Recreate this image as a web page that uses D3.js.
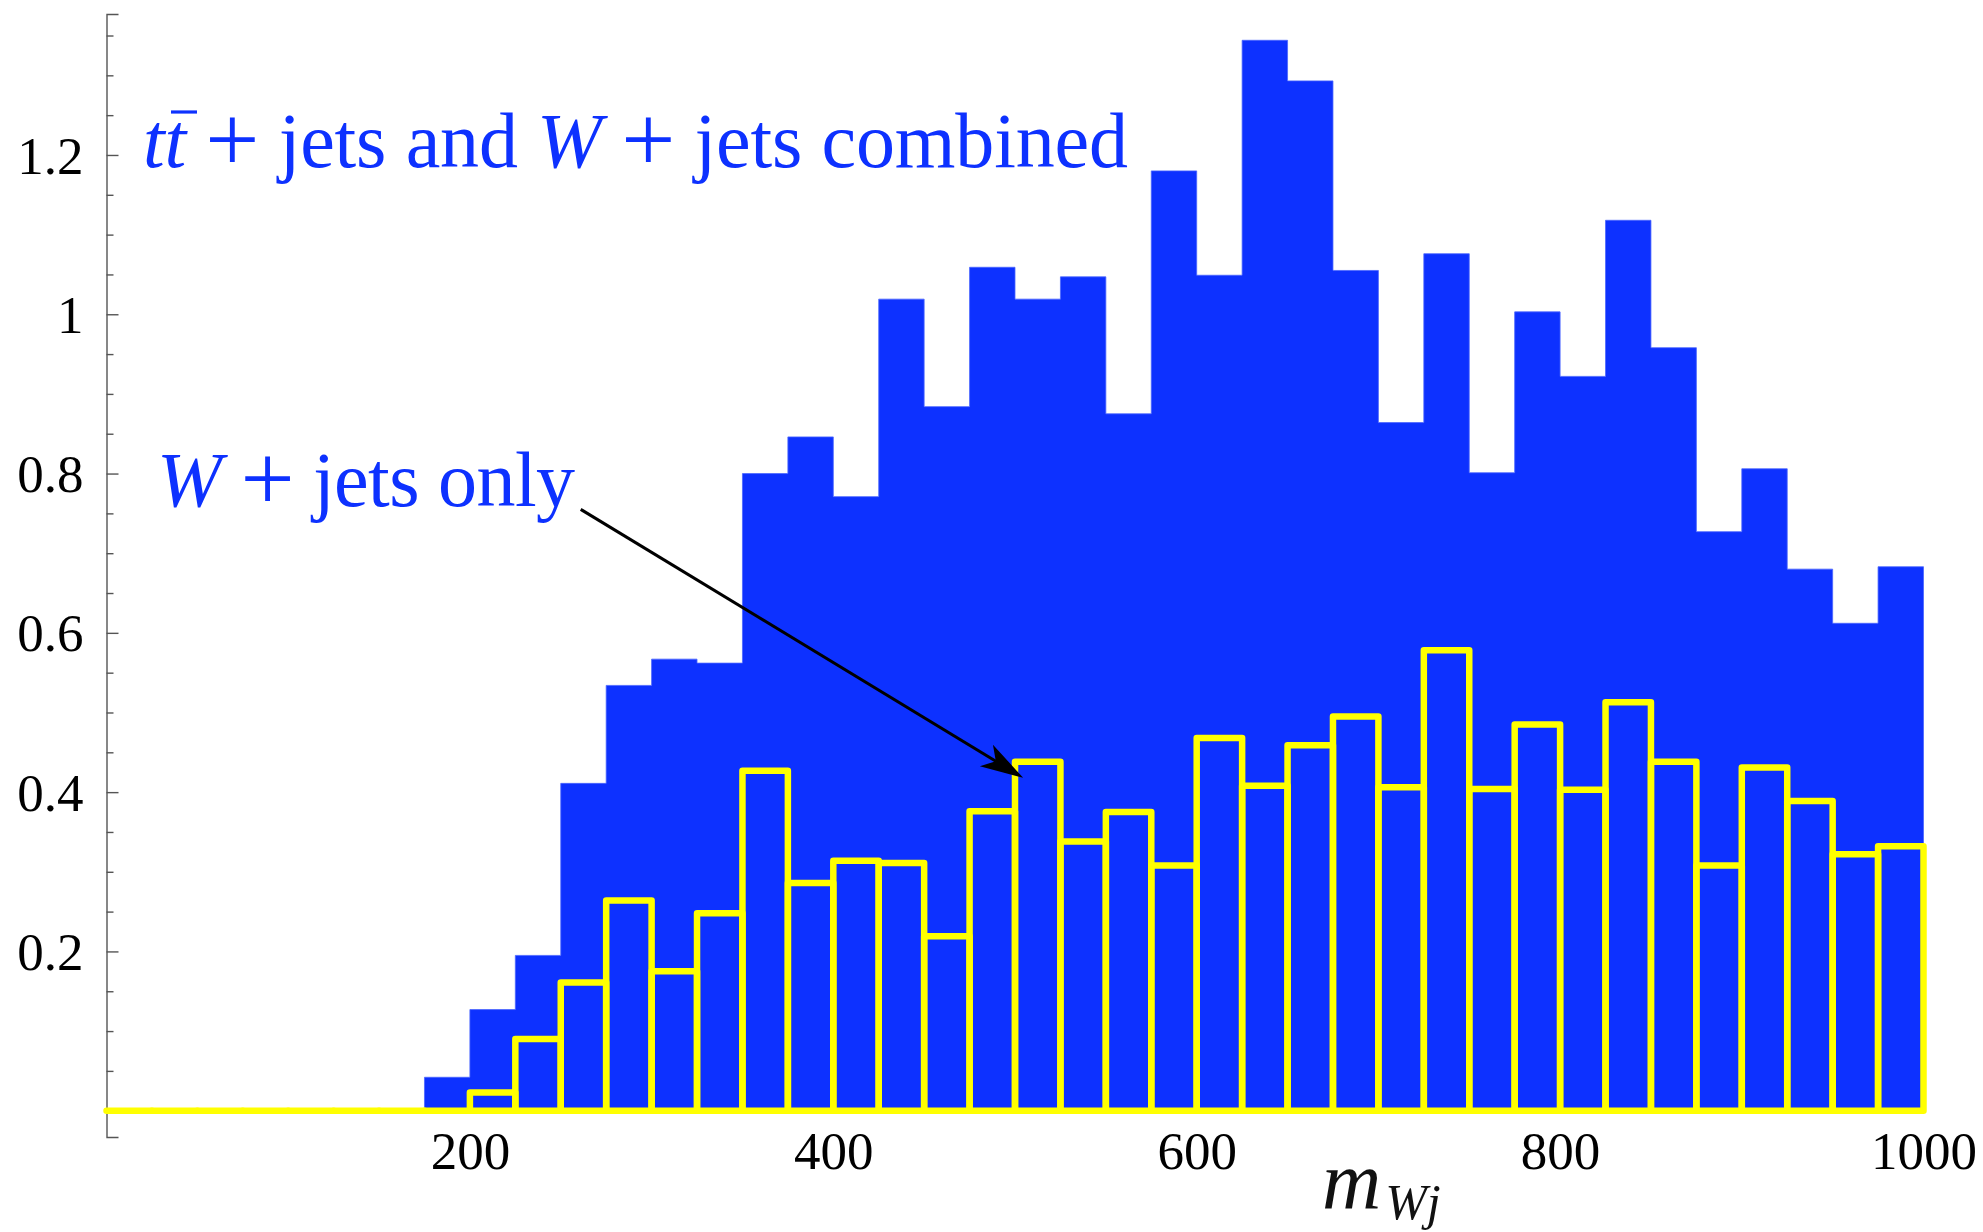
<!DOCTYPE html>
<html>
<head>
<meta charset="utf-8">
<script src="https://cdn.jsdelivr.net/npm/d3@7"></script>
<style>
  body { margin: 0; background: #fff; }
  svg { display: block; }
  text { font-family: "Liberation Serif", "Times New Roman", serif; }
</style>
</head>
<body>
<script>
// bins are 25 wide
const binWidth = 25;

// ttbar + jets and W + jets combined, bins from 175 to 1000
const combinedStart = 175;
const combined = [
  0.042, 0.127, 0.195, 0.411, 0.534, 0.567, 0.562, 0.800, 0.846, 0.771,
  1.019, 0.884, 1.059, 1.019, 1.047, 0.875, 1.180, 1.049, 1.344, 1.293,
  1.055, 0.864, 1.076, 0.801, 1.003, 0.922, 1.118, 0.958, 0.727, 0.806,
  0.680, 0.612, 0.683
];

// W + jets only, bins from 0 to 1000
const wjetsStart = 0;
const wjets = [
  0, 0, 0, 0, 0, 0, 0, 0,
  0.023, 0.090, 0.161, 0.264, 0.175, 0.248, 0.427, 0.286, 0.314, 0.311,
  0.219, 0.376, 0.438, 0.338, 0.375, 0.308, 0.468, 0.408, 0.459, 0.495,
  0.406, 0.578, 0.404, 0.485, 0.403, 0.513, 0.438, 0.308, 0.431, 0.389,
  0.322, 0.332
];

const yTicks = [0.2, 0.4, 0.6, 0.8, 1, 1.2];
const xTicks = [200, 400, 600, 800, 1000];

// arrow from the "W + jets only" label to the bin at 500
const arrowFrom = [261, 0.755];
const arrowTo = [504.5, 0.418];

const w = 1983, h = 1232;
const blue = '#0d31ff';
const yellow = '#ffff00';
const tickFont = 53;
const labelFont = 78;

const svg = d3.select('body')
  .append('svg')
  .attr('width', w)
  .attr('height', h)
  .attr('viewBox', [0, 0, w, h]);

const x = d3.scaleLinear()
  .domain([0, 1000])
  .range([106.5, 1923.5]);

const y = d3.scaleLinear()
  .domain([-0.033, 1.377])
  .range([1137, 14]);

// y axis, ticks point inward
const minorTicks = d3.range(1, 28)
  .map(i => i * 0.05)
  .filter(v => Math.round(v * 100) % 20 !== 0);

const yAxisMinor = svg.append('g')
  .attr('transform', `translate(${x(0)},0)`)
  .call(d3.axisLeft(y).tickValues(minorTicks).tickSize(-7).tickFormat(''));

const yAxis = svg.append('g')
  .attr('transform', `translate(${x(0)},0)`)
  .call(d3.axisLeft(y)
    .tickValues(yTicks)
    .tickSize(-12)
    .tickPadding(23)
    .tickFormat(d3.format('~g')));

[yAxis, yAxisMinor].forEach(g => {
  g.selectAll('line').attr('stroke', '#555').attr('stroke-width', 1.4);
  g.select('.domain').attr('stroke', '#555').attr('stroke-width', 1.4);
});
yAxisMinor.select('.domain').remove();

yAxis.selectAll('text')
  .attr('fill', '#000')
  .style('font-family', '"Liberation Serif", serif')
  .style('font-size', tickFont + 'px')
  .attr('dy', '0.34em');

// x tick labels
const xAxis = svg.append('g')
  .attr('transform', `translate(0,${y(0)})`)
  .call(d3.axisBottom(x).tickValues(xTicks).tickSize(0).tickPadding(21).tickFormat(d3.format('d')));

xAxis.select('.domain').attr('stroke', '#555').attr('stroke-width', 1.4);
xAxis.selectAll('text')
  .attr('fill', '#000')
  .style('font-family', '"Liberation Serif", serif')
  .style('font-size', tickFont + 'px');

// combined histogram as one stepped area (no seams between bins)
const steps = combined.map((v, i) => [combinedStart + i * binWidth, v]);
steps.push([combinedStart + combined.length * binWidth, combined[combined.length - 1]]);

const stepArea = d3.area()
  .x(d => x(d[0]))
  .y0(y(0))
  .y1(d => y(d[1]))
  .curve(d3.curveStepAfter);

svg.append('path')
  .datum(steps)
  .attr('d', stepArea)
  .attr('fill', blue)
  .attr('stroke', '#4a66ff')
  .attr('stroke-width', 0.8);

// W + jets outline histogram
svg.append('g')
  .selectAll('path')
  .data(wjets)
  .join('path')
    .attr('d', (d, i) => {
      const x0 = x(wjetsStart + i * binWidth);
      const x1 = x(wjetsStart + (i + 1) * binWidth);
      return `M${x0},${y(0)}V${y(d)}H${x1}V${y(0)}Z`;
    })
    .attr('fill', 'none')
    .attr('stroke', yellow)
    .attr('stroke-width', 6.5)
    .attr('stroke-linejoin', 'round')
    .attr('stroke-linecap', 'round');

// labels, math parts in italic, plus signs a bit larger like TeX
const plus = (t, before) => {
  t.append('tspan').text(before);
  t.append('tspan').style('font-size', '96px').attr('dy', 4).text('+');
  return t.append('tspan').attr('dy', -4);
};

const title = svg.append('text')
  .attr('x', 143)
  .attr('y', 167)
  .attr('fill', blue)
  .style('font-size', labelFont + 'px')
  .attr('textLength', 985)
  .attr('lengthAdjust', 'spacing');

title.append('tspan').style('font-style', 'italic').text('t');
title.append('tspan').style('font-style', 'italic').text('t');
plus(title, ' ').text(' jets and ');
title.append('tspan').style('font-style', 'italic').text('W');
plus(title, ' ').text(' jets combined');

// bar over the second t
const ext = title.node().getExtentOfChar(1);
svg.append('line')
  .attr('x1', ext.x + ext.width * 0.3)
  .attr('x2', ext.x + ext.width * 0.3 + 26)
  .attr('y1', 112)
  .attr('y2', 112)
  .attr('stroke', blue)
  .attr('stroke-width', 3.2);

const only = svg.append('text')
  .attr('x', 157)
  .attr('y', 506)
  .attr('fill', blue)
  .style('font-size', labelFont + 'px')
  .attr('textLength', 418)
  .attr('lengthAdjust', 'spacing');

only.append('tspan').style('font-style', 'italic').text('W');
plus(only, ' ').text(' jets only');

// axis label m_Wj
const axisLabel = svg.append('text')
  .attr('x', 1322)
  .attr('y', 1208)
  .attr('fill', '#111')
  .style('font-style', 'italic')
  .style('font-size', '82px');

axisLabel.append('tspan').text('m');
axisLabel.append('tspan')
  .attr('dy', 11)
  .attr('dx', 4)
  .style('font-size', '50px')
  .text('Wj');

// arrow
const ax0 = x(arrowFrom[0]), ay0 = y(arrowFrom[1]);
const ax1 = x(arrowTo[0]), ay1 = y(arrowTo[1]);
const angle = Math.atan2(ay1 - ay0, ax1 - ax0) * 180 / Math.PI;

svg.append('line')
  .attr('x1', ax0)
  .attr('y1', ay0)
  .attr('x2', ax1 - 30 * Math.cos(angle * Math.PI / 180))
  .attr('y2', ay1 - 30 * Math.sin(angle * Math.PI / 180))
  .attr('stroke', '#000')
  .attr('stroke-width', 3);

svg.append('path')
  .attr('d', 'M0,0L-43,-12.6L-32,0L-43,12.6Z')
  .attr('transform', `translate(${ax1},${ay1}) rotate(${angle})`)
  .attr('fill', '#000');
</script>
</body>
</html>
